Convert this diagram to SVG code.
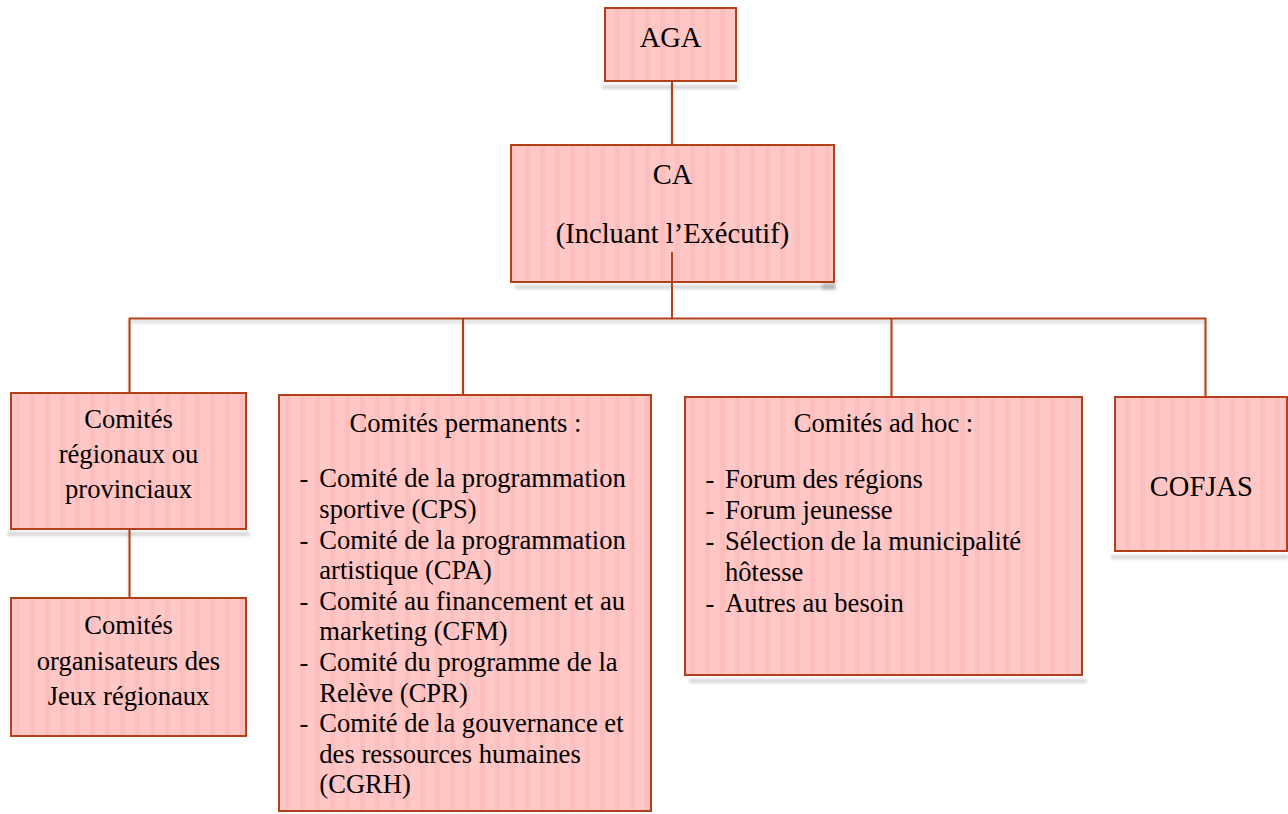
<svg xmlns="http://www.w3.org/2000/svg" width="1288" height="814" viewBox="0 0 1288 814">
  <defs>
    <pattern id="stripes" width="15" height="10" patternUnits="userSpaceOnUse">
      <rect width="15" height="10" fill="#FFC7C5"/>
      <rect x="0" width="5" height="10" fill="#FCBFBD"/>
    </pattern>
    <filter id="blur" x="-10%" y="-200%" width="120%" height="500%">
      <feGaussianBlur stdDeviation="1.6"/>
    </filter>
    <filter id="lineShadow" x="-5%" y="-20%" width="110%" height="140%">
      <feDropShadow dx="0" dy="3" stdDeviation="1.5" flood-color="#000" flood-opacity="0.22"/>
    </filter>
  </defs>
  <style>
    .box { fill: url(#stripes); stroke: #B3401B; stroke-width: 2; }
    .shadow { fill: #000; opacity: 0.16; filter: url(#blur); }
    .conn { stroke: #B3401B; stroke-width: 2; fill: none; }
    .t { font-family: "Liberation Serif", "Times New Roman", serif; fill: #000; }
    .big { font-size: 28.5px; text-anchor: middle; }
    .mid { font-size: 26.6px; text-anchor: middle; }
    .li { font-size: 26.6px; }
  </style>
  <rect width="1288" height="814" fill="#FFFFFF"/>

  <!-- shadows -->
  <g id="shadows">
    <rect class="shadow" x="602" y="85" width="137" height="4"/>
    <rect class="shadow" x="515" y="285" width="320" height="4"/>
    <rect class="shadow" x="822" y="280" width="14" height="10"/>
    <rect class="shadow" x="7" y="532" width="243" height="4"/>
    <rect class="shadow" x="689" y="679" width="398" height="4"/>
    <rect class="shadow" x="1111" y="555" width="177" height="4"/>
  </g>

  <!-- connectors -->
  <g id="connectors" filter="url(#lineShadow)">
    <line class="conn" x1="672" y1="81" x2="672" y2="145"/>
    <polyline class="conn" points="129.5,392 129.5,318.5 1205.5,318.5 1205.5,397"/>
    <line class="conn" x1="463" y1="318.5" x2="463" y2="395"/>
    <line class="conn" x1="891.5" y1="318.5" x2="891.5" y2="397"/>
    <line class="conn" x1="129.5" y1="529" x2="129.5" y2="598"/>
  </g>

  <g id="node-aga">
    <rect class="box" x="605" y="8" width="131" height="73"/>
    <text class="t big" x="670.5" y="46.5">AGA</text>
  </g>

  <g id="node-ca">
    <rect class="box" x="511" y="145" width="323" height="137"/>
    <text class="t big" x="672.5" y="184">CA</text>
    <text class="t big" x="672.5" y="243">(Incluant l’Exécutif)</text>
  </g>
  <line class="conn" x1="672" y1="252" x2="672" y2="319"/>

  <g id="node-regionaux">
    <rect class="box" x="11" y="393" width="235" height="136"/>
    <text class="t mid" x="128.5" y="428">Comités</text>
    <text class="t mid" x="128.5" y="463">régionaux ou</text>
    <text class="t mid" x="128.5" y="498">provinciaux</text>
  </g>

  <g id="node-organisateurs">
    <rect class="box" x="11" y="598" width="235" height="138"/>
    <text class="t mid" x="128.5" y="634">Comités</text>
    <text class="t mid" x="128.5" y="669.5">organisateurs des</text>
    <text class="t mid" x="128.5" y="705">Jeux régionaux</text>
  </g>

  <g id="node-permanents">
    <rect class="box" x="279" y="395" width="372" height="416"/>
    <text class="t mid" x="465.5" y="431.5">Comités permanents :</text>
    <g class="t li">
      <text x="299.5" y="487.3">-</text>
      <text x="319.3" y="487.3">Comité de la programmation</text>
      <text x="319.3" y="517.9">sportive (CPS)</text>
      <text x="299.5" y="548.5">-</text>
      <text x="319.3" y="548.5">Comité de la programmation</text>
      <text x="319.3" y="579.1">artistique (CPA)</text>
      <text x="299.5" y="609.7">-</text>
      <text x="319.3" y="609.7">Comité au financement et au</text>
      <text x="319.3" y="640.3">marketing (CFM)</text>
      <text x="299.5" y="670.9">-</text>
      <text x="319.3" y="670.9">Comité du programme de la</text>
      <text x="319.3" y="701.5">Relève (CPR)</text>
      <text x="299.5" y="732.1">-</text>
      <text x="319.3" y="732.1">Comité de la gouvernance et</text>
      <text x="319.3" y="762.7">des ressources humaines</text>
      <text x="319.3" y="793.3">(CGRH)</text>
    </g>
  </g>

  <g id="node-adhoc">
    <rect class="box" x="685" y="397" width="397" height="278"/>
    <text class="t mid" x="883.5" y="432.3">Comités ad hoc :</text>
    <g class="t li">
      <text x="705.5" y="488.3">-</text>
      <text x="725" y="488.3">Forum des régions</text>
      <text x="705.5" y="519.1">-</text>
      <text x="725" y="519.1">Forum jeunesse</text>
      <text x="705.5" y="549.9">-</text>
      <text x="725" y="549.9">Sélection de la municipalité</text>
      <text x="725" y="580.7">hôtesse</text>
      <text x="705.5" y="611.5">-</text>
      <text x="725" y="611.5">Autres au besoin</text>
    </g>
  </g>

  <g id="node-cofjas">
    <rect class="box" x="1115" y="397" width="172" height="154"/>
    <text class="t big" x="1201.3" y="496">COFJAS</text>
  </g>
</svg>
